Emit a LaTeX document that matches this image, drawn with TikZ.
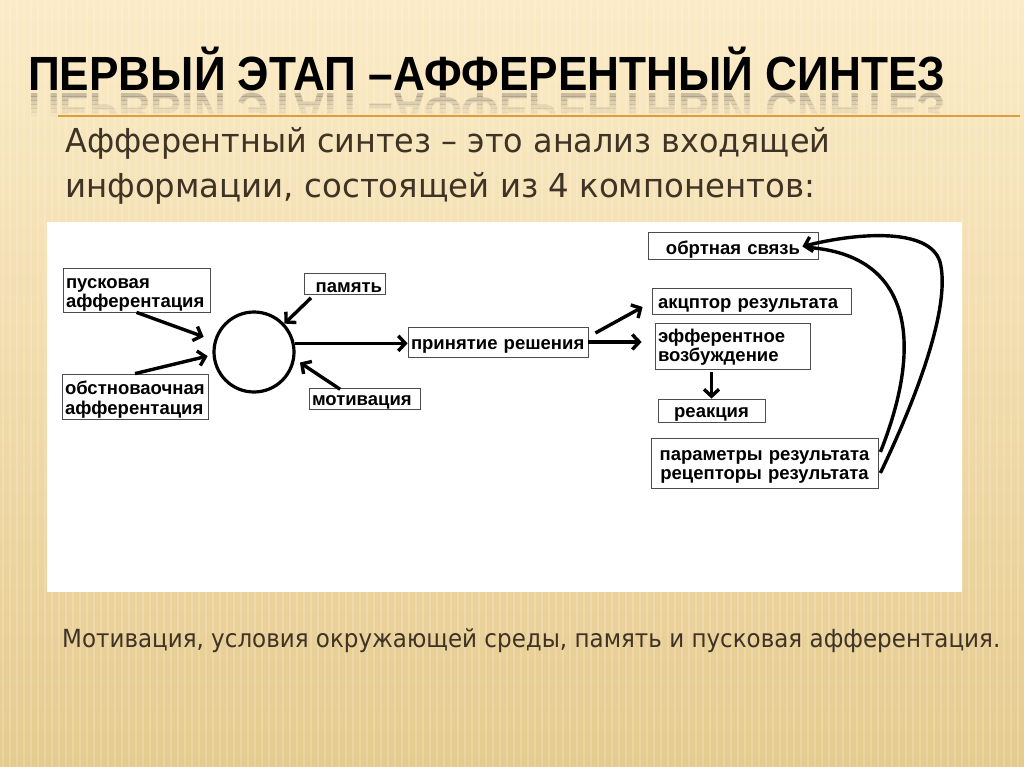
\documentclass[tikz,border=0pt]{standalone}
\usepackage{fontspec}
\setmainfont{Liberation Sans}
\newfontfamily\djv{DejaVu Sans}
\usetikzlibrary{arrows.meta,calc}
\definecolor{bgtop}{HTML}{FBEBC6}
\definecolor{bgbot}{HTML}{E6CB8F}
\definecolor{txtbrown}{HTML}{3E3325}
\definecolor{rulecol}{HTML}{E09E3A}
\newcommand{\titletext}{\resizebox{917pt}{\height}{\fontsize{48}{50}\selectfont\bfseries ПЕРВЫЙ ЭТАП –АФФЕРЕНТНЫЙ СИНТЕЗ}}
\newcommand{\lowr}[2]{\raisebox{-#1}[\height][\depth]{#2}}
\newcommand{\twol}[3]{\raisebox{-#1}[\height][\depth]{\begin{tabular}{@{}l@{}}#2\\#3\end{tabular}}}
\newcommand{\twoc}[3]{\raisebox{-#1}[\height][\depth]{\begin{tabular}{@{}c@{}}#2\\#3\end{tabular}}}
\begin{document}
\begin{tikzpicture}[x=1pt,y=-1pt,
  box/.style={draw=black!70, line width=0.8pt, fill=white,
    font=\bfseries\fontsize{18.5}{19.5}\selectfont, inner xsep=3pt, inner ysep=0pt, align=left},
  arr/.style={line width=3.4pt, -{Straight Barb[length=7pt,width=15pt]}},
  plain/.style={line width=3.4pt},
  head/.style={inner sep=0pt, anchor=base west}
]
\renewcommand{\arraystretch}{1}
\useasboundingbox (0,0) rectangle (1024,767);
\shade[top color=bgtop, bottom color=bgbot] (0,0) rectangle (1024,767);
\foreach \i in {3,10,...,1024} \draw[white, opacity=0.16, line width=2.5pt] (\i,0) -- (\i,767);

% title + reflection
\node[head] (title) at (28,91) {\titletext};
\foreach \yy/\oo in {93/0.28,97/0.22,101/0.16,105/0.11,109/0.07,113/0.03} {
  \begin{scope}
    \clip (20,\yy) rectangle (960,\yy+4);
    \node[head, yscale=-1, text=black!70, opacity=\oo] (refl\yy) at (28,94) {\titletext};
  \end{scope}
}
\draw[rulecol, line width=2pt] (58,116) -- (1020,116);

% subtitle
\node[head, text=txtbrown] (sub1) at (65,153) {\resizebox{765pt}{\height}{\djv\fontsize{33}{36}\selectfont Афферентный синтез – это анализ входящей}};
\node[head, text=txtbrown] (sub2) at (65,198) {\resizebox{750pt}{\height}{\djv\fontsize{33}{36}\selectfont информации, состоящей из 4 компонентов:}};

% panel
\fill[white] (47,222) rectangle (962,592);

% nodes
\node[box, minimum height=44pt, text width=141pt] (pusk) at (136.5,290) {\twol{4pt}{пусковая}{афферентация}};
\node[box, minimum height=45pt, text width=140pt] (obst) at (135,396.5) {\twol{4pt}{обстноваочная}{афферентация}};
\node[draw, circle, line width=3.2pt, minimum size=80pt, inner sep=0pt] (circ) at (254,352) {};
\node[box, minimum height=21pt, text width=75pt, align=right] (pam) at (344.5,283.5) {\lowr{4pt}{память}};
\node[box, minimum height=21pt, text width=105pt] (motiv) at (364.5,398.5) {\lowr{4pt}{мотивация}};
\node[box, minimum height=30pt, text width=174pt] (prin) at (498,342) {\lowr{4pt}{принятие решения}};
\node[box, minimum height=27pt, text width=164pt, align=center] (obr) at (733,245.5) {\lowr{4pt}{обртная связь}};
\node[box, minimum height=26pt, text width=193pt] (akc) at (751.5,301) {\lowr{4pt}{\hspace{3pt}акцптор результата}};
\node[box, minimum height=46pt, text width=149pt] (eff) at (732.5,346) {\twol{2pt}{эфферентное}{возбуждение}};
\node[box, minimum height=23pt, text width=101pt, align=center] (reak) at (711.5,410.5) {\lowr{4pt}{реакция}};
\node[box, minimum height=50pt, text width=221pt, align=center] (param) at (764.5,463) {\twoc{3pt}{параметры результата}{рецепторы результата}};

% connectors
\draw[arr, shorten >=11pt] (pusk.south) -- (circ.164);
\draw[arr, shorten >=5pt] (obst.north) -- (circ.184);
\draw[arr, shorten <=5pt] ([xshift=11pt]pam.south west) -- (circ.43);
\draw[arr, shorten <=-3pt, shorten >=6pt] ([xshift=29pt]motiv.north west) -- (circ.-10);
\draw[arr] (circ.12) -- (circ.12 -| prin.west);
\draw[arr] ([shift={(7,-9)}]prin.east) -- ([shift={(-9,6)}]akc.west);
\draw[arr, shorten >=13pt] (prin.east) -- (prin.east -| eff.west);
\draw[arr, shorten <=3pt] (reak.north |- eff.south) -- (reak.north);
\draw[plain] ([shift={(2,-11)}]param.east) .. controls (925,340) and (910,255) .. ([shift={(-10,2)}]obr.east);
\draw[arr] ([shift={(2,10)}]param.east) .. controls (925,380) and (950,300) .. (940,262) .. controls (930,228) and (860,232) .. ([shift={(-16,1)}]obr.east);

% bottom text
\node[head, text=txtbrown] (bottom) at (62,647) {\resizebox{938pt}{\height}{\djv\fontsize{25}{28}\selectfont Мотивация, условия окружающей среды, память и пусковая афферентация.}};
\end{tikzpicture}
\end{document}
